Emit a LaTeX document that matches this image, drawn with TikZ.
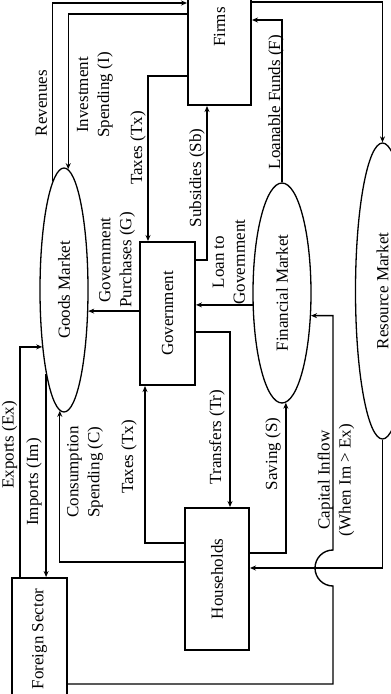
\documentclass[tikz,border=0pt]{standalone}
\usepackage{fontspec}
\setmainfont{Liberation Serif}
\usetikzlibrary{shapes.geometric,arrows.meta,calc}
\begin{document}
\begin{tikzpicture}[x=1pt,y=-1pt,
  lbl/.style={rotate=90, font=\fontsize{17}{21}\selectfont, align=center, inner sep=0pt},
  box/.style={draw, rectangle, line width=2pt, inner sep=0pt, font=\fontsize{17}{21}\selectfont},
  mkt/.style={draw, ellipse, line width=1.3pt, inner sep=0pt, font=\fontsize{17}{21}\selectfont},
  arr/.style={line width=1.4pt, -{Stealth[length=6pt,width=5pt]}}]
\useasboundingbox (0,0) rectangle (391,694);
\clip (0,0) rectangle (391,694);
% boxes
\node[box, minimum width=63pt, minimum height=156pt] (firms) at (219.5,27) {\rotatebox{90}{Firms}};
\node[box, minimum width=55pt, minimum height=143pt] (gov) at (167.5,313.5) {\rotatebox{90}{Government}};
\node[box, minimum width=64pt, minimum height=142pt] (hh) at (217,579) {\rotatebox{90}{Households}};
\node[box, minimum width=55pt, minimum height=122pt] (fs) at (39.5,639) {\rotatebox{90}{Foreign Sector}};
% markets
\node[mkt, minimum width=48pt, minimum height=244pt] (gm) at (64,290) {\rotatebox{90}{Goods Market}};
\node[mkt, minimum width=58pt, minimum height=220pt] (fm) at (282,293) {\rotatebox{90}{Financial Market}};
\node[mkt, minimum width=54pt, minimum height=296pt] (rm) at (382.5,291) {\rotatebox{90}{Resource Market}};
% helper levels
\coordinate (yRev) at (0,3);
\coordinate (yInv) at (0,14);
\coordinate (yTxF) at (0,76);
\coordinate (xTxF) at (148,0);
\coordinate (ySb) at (0,260);
\coordinate (xSb) at (207,0);
\coordinate (yTr) at (0,332);
\coordinate (xTr) at (230,0);
\coordinate (ySv) at (0,553);
\coordinate (yLF) at (0,20);
\coordinate (yRes) at (0,2);
\coordinate (yRH) at (0,568);
\coordinate (yCap) at (0,684);
\coordinate (xCap) at (333,0);
\coordinate (yTxH) at (0,543);
\coordinate (xTxH) at (145,0);
\coordinate (yC) at (0,562);
\coordinate (xEx) at (20,0);
% connectors
\draw[arr] (gm.96.5) |- (firms.west |- yRev);
\draw[arr] (firms.west |- yInv) -| (gm.88.1);
\draw[arr] (firms.west |- yTxF) -| (gov.north -| xTxF);
\draw[arr] (gov.east |- ySb) -| (firms.south -| xSb);
\draw[arr] (fm.north) |- (firms.east |- yLF);
\draw[arr] (firms.east |- yRes) -| (rm.north);
\draw[arr] (fm.202.6) -- (gov.east |- fm.202.6);
\draw[arr] (gov.west |- gm.319.8) -- (gm.319.8);
\draw[arr] (gov.east |- yTr) -| (hh.north -| xTr);
\draw[arr] (hh.east |- ySv) -| (fm.272.6);
\draw[arr] (rm.south) |- (hh.east |- yRH);
\draw[arr] (fs.east |- yCap) -- (xCap |- yCap) -- ($(xCap |- yRH)+(0,18)$)
  arc[start angle=270, end angle=90, radius=18pt] -- (xCap |- fm.322.2) -- (fm.322.2);
\draw[arr] (hh.west |- yTxH) -| (gov.south -| xTxH);
\draw[arr] (hh.west |- yC) -| (gm.268.1);
\draw[arr] (gm.258.8) -- (fs.north -| gm.258.8);
\draw[arr] (fs.north -| xEx) |- (gm.249.6);
% labels
\node[lbl] (lRev) at (41.5,103) {Revenues};
\node[lbl] (lInv) at (95,95) {Investment\\Spending (I)};
\node[lbl] (lTxF) at (138,148) {Taxes (Tx)};
\node[lbl] (lSb) at (197,178) {Subsidies (Sb)};
\node[lbl] (lLF) at (276,102) {Loanable Funds (F)};
\node[lbl] (lGP) at (117,260) {Government\\Purchases (G)};
\node[lbl] (lLoan) at (229,262) {Loan to\\Government};
\node[lbl] (lTr) at (217,437) {Transfers (Tr)};
\node[lbl] (lSv) at (273,454) {Saving (S)};
\node[lbl] (lCap) at (336,480) {Capital Inflow\\(When Im > Ex)};
\node[lbl] (lTxH) at (129,457) {Taxes (Tx)};
\node[lbl] (lC) at (85,472) {Consumption\\Spending (C)};
\node[lbl] (lIm) at (34,482) {Imports (Im)};
\node[lbl] (lEx) at (9.5,445) {Exports (Ex)};
\end{tikzpicture}
\end{document}
